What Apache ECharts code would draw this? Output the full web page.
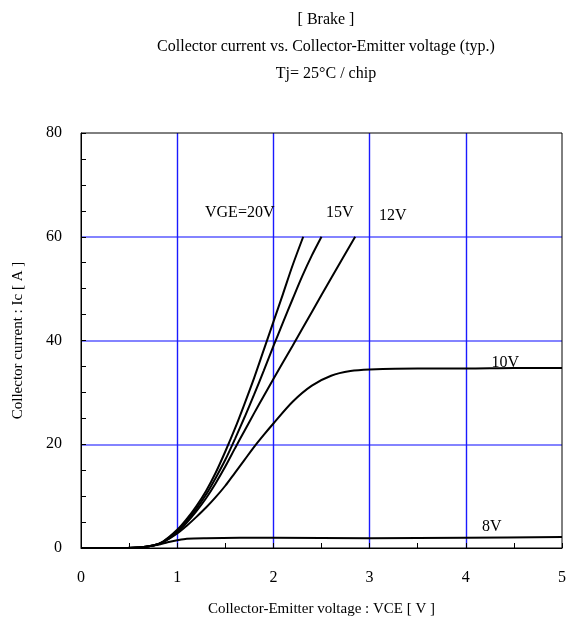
<!DOCTYPE html>
<html><head><meta charset="utf-8">
<script src="https://cdn.jsdelivr.net/npm/echarts@6/dist/echarts.min.js"></script>
<style>html,body{margin:0;padding:0;background:#fff}#c{width:576px;height:629px}</style>
</head><body><div id="c"></div>
<script>
const titleLines = ['[ Brake ]', 'Collector current vs. Collector-Emitter voltage (typ.)', 'Tj= 25°C / chip'];
const xName = 'Collector-Emitter voltage : VCE [ V ]';
const yName = 'Collector current : Ic [ A ]';
const xTicks = [0, 1, 2, 3, 4, 5];
const yTicks = [0, 20, 40, 60, 80];

const v20 = [[0,0],[0.3,0],[0.6,0.1],[0.75,0.5],[0.85,1.2],[1.0,3.5],[1.1,5.6],[1.2,8.1],[1.3,11],[1.4,14.5],[1.5,18.6],[1.6,23],[1.7,27.8],[1.8,32.8],[1.9,38.2],[2.0,43.6],[2.1,49],[2.2,54.5],[2.31,60]];
const v15 = [[0,0],[0.3,0],[0.6,0.1],[0.75,0.5],[0.85,1.2],[1.0,3.3],[1.1,5.3],[1.2,7.6],[1.3,10.3],[1.4,13.5],[1.5,17],[1.6,21],[1.7,25.2],[1.8,29.6],[1.9,34.2],[2.0,38.9],[2.1,43.5],[2.2,48],[2.3,52.4],[2.4,56.4],[2.5,60]];
const v12 = [[0,0],[0.3,0],[0.6,0.1],[0.75,0.5],[0.85,1.1],[1.0,3.0],[1.1,4.9],[1.2,7.1],[1.3,9.6],[1.4,12.5],[1.5,15.7],[1.6,19.2],[1.7,22.6],[1.8,26],[1.9,29.3],[2.0,32.6],[2.2,39],[2.4,45.5],[2.6,52],[2.85,60]];
const v10 = [[0,0],[0.3,0],[0.6,0.1],[0.75,0.5],[0.85,1.1],[1.0,2.8],[1.1,4.3],[1.2,6],[1.3,7.8],[1.4,9.8],[1.5,12],[1.6,14.5],[1.7,17],[1.8,19.5],[1.9,21.8],[2.0,24],[2.2,28.2],[2.4,31.3],[2.6,33.2],[2.8,34.1],[3.0,34.4],[3.5,34.6],[4.0,34.6],[4.5,34.7],[5.0,34.7]];
const v8 = [[0,0],[0.3,0],[0.6,0.1],[0.8,0.6],[0.9,1.1],[1.0,1.5],[1.1,1.8],[1.3,1.9],[2,2],[3,1.9],[4,2],[5,2.1]];
const curveLabels = [
  {text:'VGE=20V', coord:[1.65,64.6]},
  {text:'15V', coord:[2.69,64.6]},
  {text:'12V', coord:[3.24,64]},
  {text:'10V', coord:[4.41,35.7]},
  {text:'8V', coord:[4.27,4]}
];

const font = 'Liberation Serif, Times New Roman, serif';
const chart = echarts.init(document.getElementById('c'), null, {renderer:'canvas'});
function line(d){return {type:'line', data:d, showSymbol:false, symbol:'none', smooth:0.3, lineStyle:{color:'#000', width:2}, z:5};}
const series = [line(v20), line(v15), line(v12), line(v10), line(v8)];
chart.setOption({
  animation:false,
  title: titleLines.map((t,i)=>({text:t, left:321, top:7+i*27, textAlign:'center', textStyle:{fontFamily:font, fontSize:16, fontWeight:'normal', color:'#000'}})),
  grid:{left:81, right:14, top:133, bottom:81, show:true, borderColor:'#000', borderWidth:1, z:3},
  xAxis:{type:'value', min:xTicks[0], max:xTicks[xTicks.length-1], interval:1, name:xName, nameLocation:'middle', nameGap:54,
    nameTextStyle:{fontFamily:font, fontSize:15, color:'#000'},
    axisLine:{onZero:false, lineStyle:{color:'#000', width:1}},
    axisTick:{inside:true, length:5, lineStyle:{color:'#000'}},
    minorTick:{show:true, splitNumber:2, length:5, lineStyle:{color:'#000'}},
    axisLabel:{fontFamily:font, fontSize:16, color:'#000', margin:22},
    splitLine:{show:true, showMinLine:false, showMaxLine:false, lineStyle:{color:'#1a1aff', width:1.4}}},
  yAxis:{type:'value', min:yTicks[0], max:yTicks[yTicks.length-1], interval:20, name:yName, nameLocation:'middle', nameGap:55, nameRotate:90,
    nameTextStyle:{fontFamily:font, fontSize:15, color:'#000'},
    axisLine:{show:true, lineStyle:{color:'#000', width:1}},
    axisTick:{show:true, inside:true, length:5, lineStyle:{color:'#000'}},
    minorTick:{show:true, splitNumber:4, length:5, lineStyle:{color:'#000'}},
    axisLabel:{fontFamily:font, fontSize:16, color:'#000', margin:19},
    splitLine:{show:true, showMinLine:false, showMaxLine:false, lineStyle:{color:'#5a5aff', width:1.6}}},
  series: series
});
const g = curveLabels.map(l=>{const p=chart.convertToPixel({gridIndex:0}, l.coord); return {type:'text', x:p[0], y:p[1], z:10, style:{text:l.text, fill:'#000', font:'16px '+font, align:'center', verticalAlign:'middle'}};});
chart.setOption({graphic:g});
</script></body></html>
